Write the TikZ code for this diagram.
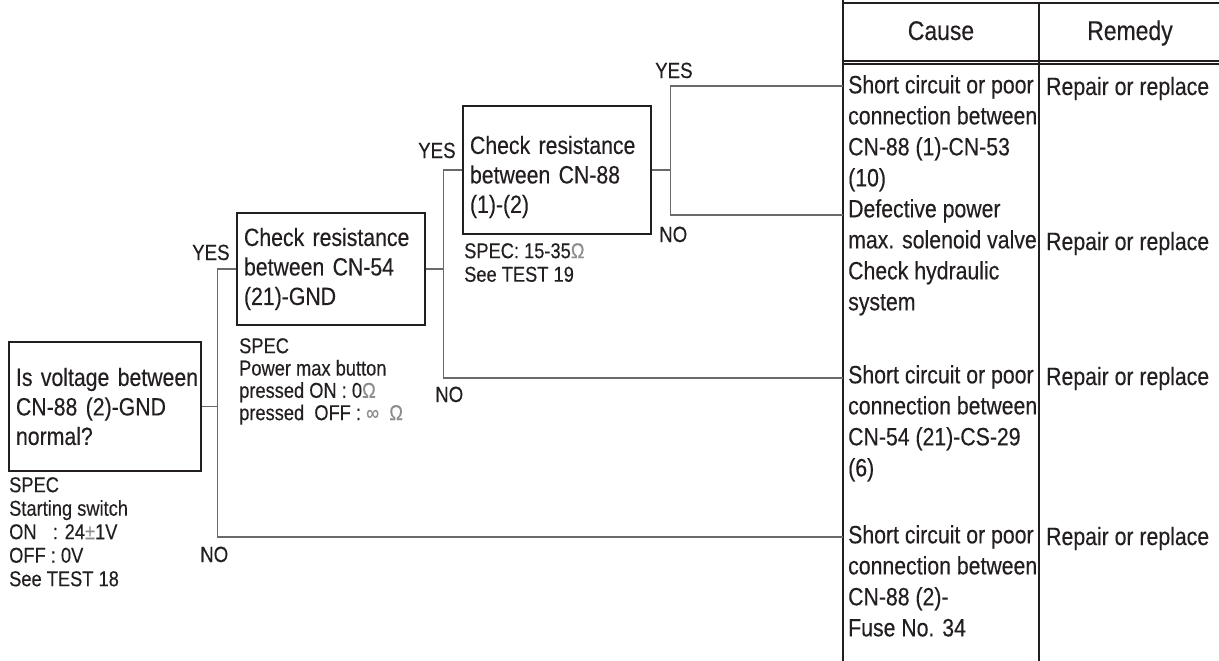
\documentclass[tikz,border=0pt]{standalone}
\usepackage{fontspec}
\setmainfont[FakeStretch=0.85,FakeBold=0.3]{Liberation Sans}
\definecolor{ink}{HTML}{231F20}
\definecolor{wirec}{HTML}{6A6A6A}
\definecolor{sym}{HTML}{8C8C8C}
\begin{document}
\begin{tikzpicture}[x=1pt,y=-1pt,
  qbox/.style={draw=ink,line width=1.4pt,inner xsep=7pt,inner ysep=0pt,align=left,
    text=ink,font=\fontsize{25}{29.5}\selectfont},
  wire/.style={draw=wirec,line width=1.1pt},
  tabline/.style={draw=ink,line width=1.3pt},
  tabtext/.style={text=ink,align=left,anchor=north west,inner sep=0pt,
    font=\fontsize{25}{31}\selectfont,execute at begin node={\rule{0pt}{20pt}}},
  spectext/.style={text=ink,align=left,anchor=north west,inner sep=0pt,
    font=\fontsize{21.5}{23.5}\selectfont,execute at begin node={\rule{0pt}{17pt}}},
  lbl/.style={text=ink,anchor=base west,inner sep=0pt,font=\fontsize{22}{24}\selectfont},
  remedy/.style={text=ink,anchor=base west,inner sep=0pt,font=\fontsize{25}{31}\selectfont},
  head/.style={text=ink,anchor=base,inner sep=0pt,font=\fontsize{27}{30}\selectfont}
]
\useasboundingbox (0,0) rectangle (1219,661);

% decision boxes
\node[qbox,minimum width=192pt,minimum height=129pt,text width=178pt] (q1) at (105,406.5)
  {\mbox{Is voltage between}\\\mbox{CN-88 (2)-GND}\\\mbox{normal?}};
\node[qbox,minimum width=188pt,minimum height=112pt,text width=174pt] (q2) at (331,269)
  {\mbox{Check resistance}\\\mbox{between CN-54}\\\mbox{(21)-GND}};
\node[qbox,minimum width=188pt,minimum height=128pt,text width=174pt] (q3) at (557,170)
  {\rule{0pt}{32pt}\mbox{Check resistance}\\\mbox{between CN-88}\\\mbox{(1)-(2)}};

% spec notes
\node[spectext] (s1) at (9,477) {SPEC\\Starting switch\\ON\hphantom{F} : 24{\color{sym}±}1V\\OFF : 0V\\See TEST 18};
\node[spectext,font=\fontsize{21.5}{22.3}\selectfont] (s2) at (239,338) {SPEC\\Power max button\\pressed ON : 0{\color{sym}Ω}\\pressed\ \ OFF : {\color{sym}∞\ \ Ω}};
\node[spectext] (s3) at (464,243) {SPEC: 15-35{\color{sym}Ω}\\See TEST 19};

% table
\draw[tabline] (843,0) -- (843,661);
\draw[tabline] (843,3) -- (1219,3);
\draw[tabline] (843,61) -- (1219,61);
\draw[tabline] (843,64) -- (1219,64);
\draw[tabline] (1039,3) -- (1039,661);
\node[head] (hc) at (941,40) {Cause};
\node[head] (hr) at (1130,40) {Remedy};

\node[tabtext] (c1) at (848,75) {Short circuit or poor\\connection between\\CN-88 (1)-CN-53\\(10)\\Defective power\\max. solenoid valve\\Check hydraulic\\system};
\node[tabtext] (c2) at (848,365) {Short circuit or poor\\connection between\\CN-54 (21)-CS-29\\(6)};
\node[tabtext] (c3) at (848,525) {Short circuit or poor\\connection between\\CN-88 (2)-\\Fuse No. 34};

\node[remedy] (r1) at (1046,95) {Repair or replace};
\node[remedy] (r2) at (1046,250) {Repair or replace};
\node[remedy] (r3) at (1046,385) {Repair or replace};
\node[remedy] (r4) at (1046,545) {Repair or replace};

% connector end points on the table
\coordinate (e1) at (843,86);
\coordinate (e2) at (843,215);
\coordinate (e3) at (843,378);
\coordinate (e4) at (843,537);

% connectors
\draw[wire] (q1.east) -- ++(16,0) coordinate (j1);
\draw[wire] (j1) |- (q2.west);
\draw[wire] (j1) |- (e4);
\draw[wire] (q2.east) -- ++(18,0) coordinate (j2);
\draw[wire] (j2) |- (q3.west);
\draw[wire] (j2) |- (e3);
\draw[wire] (q3.east) -- ++(19,0) coordinate (j3);
\draw[wire] (j3) |- (e1);
\draw[wire] (j3) |- (e2);

% labels
\node[lbl] (y1) at (192,260) {YES};
\node[lbl] (n1) at (200,562) {NO};
\node[lbl] (y2) at (418,158) {YES};
\node[lbl] (n2) at (435,402) {NO};
\node[lbl] (y3) at (655,78) {YES};
\node[lbl] (n3) at (659,242) {NO};
\end{tikzpicture}
\end{document}
